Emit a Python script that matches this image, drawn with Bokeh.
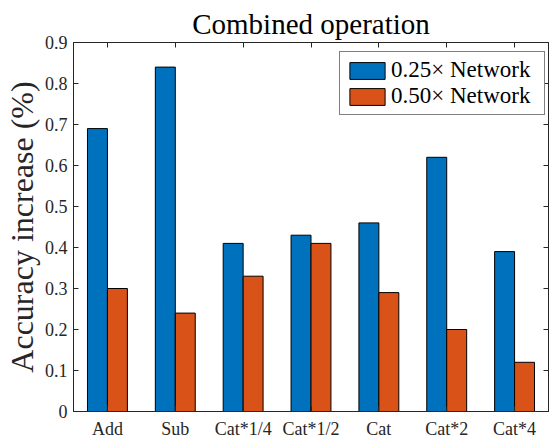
from bokeh.plotting import figure
from bokeh.models import (FixedTicker, LinearAxis, Range1d, ColumnDataSource,
                          Legend, LegendItem)
from bokeh.embed import file_html
from bokeh.resources import INLINE

# ---- data ----
categories = ["Add", "Sub", "Cat*1/4", "Cat*1/2", "Cat", "Cat*2", "Cat*4"]
net_025 = [0.69, 0.84, 0.41, 0.43, 0.46, 0.62, 0.39]
net_050 = [0.30, 0.24, 0.33, 0.41, 0.29, 0.20, 0.12]
series_names = ["0.25\u00d7 Network", "0.50\u00d7 Network"]
y_ticks = [0.0, 0.1, 0.2, 0.3, 0.4, 0.5, 0.6, 0.7, 0.8, 0.9]
y_tick_labels = ["0", "0.1", "0.2", "0.3", "0.4", "0.5", "0.6", "0.7", "0.8", "0.9"]
title_text = "Combined operation"
ylabel_text = "Accuracy increase (%)"

BLUE = "#0072BD"
ORANGE = "#D95319"
AXC = "#262626"
FONT = "Liberation Serif"

positions = list(range(1, len(categories) + 1))
bar_w = 0.294
src = ColumnDataSource(dict(
    xa=[p - bar_w / 2 for p in positions],
    xb=[p + bar_w / 2 for p in positions],
    a=net_025, b=net_050))

p = figure(width=550, height=441, output_backend="svg", toolbar_location=None,
           x_range=Range1d(0.5, len(categories) + 0.5), y_range=Range1d(0, 0.9),
           min_border_left=72, min_border_right=2, min_border_top=42,
           min_border_bottom=29, x_axis_location=None, y_axis_location=None)
p.title.text = title_text
p.title.text_font = FONT
p.title.text_font_size = "29px"
p.title.text_font_style = "normal"
p.title.text_color = "black"
p.title.align = "center"
p.title.standoff = 5
p.xgrid.visible = False
p.ygrid.visible = False
p.outline_line_color = AXC
p.outline_line_width = 1
p.background_fill_color = "white"
p.border_fill_color = "white"

ra = p.vbar(x="xa", top="a", width=bar_w, source=src, fill_color=BLUE,
            line_color="black", line_width=1)
rb = p.vbar(x="xb", top="b", width=bar_w, source=src, fill_color=ORANGE,
            line_color="black", line_width=1)


def style_axis(ax, ticks, labels_visible=True):
    ax.ticker = FixedTicker(ticks=ticks)
    ax.major_tick_in = 5
    ax.major_tick_out = 0
    ax.minor_tick_in = 0
    ax.minor_tick_out = 0
    ax.axis_line_color = AXC
    ax.major_tick_line_color = AXC
    ax.major_label_text_font = FONT
    ax.major_label_text_color = AXC
    ax.major_label_text_font_size = "18px"
    if not labels_visible:
        ax.major_label_text_font_size = "1px"
        ax.major_label_standoff = 0
        ax.major_label_overrides = {t: "" for t in ticks}


# bottom axis
xb_ax = LinearAxis()
style_axis(xb_ax, positions)
xb_ax.major_label_overrides = {pos: c for pos, c in zip(positions, categories)}
xb_ax.major_label_standoff = 7
p.add_layout(xb_ax, "below")

# left axis
yl_ax = LinearAxis()
style_axis(yl_ax, y_ticks)
yl_ax.major_label_overrides = {t: s for t, s in zip(y_ticks, y_tick_labels)}
yl_ax.major_label_standoff = 6
yl_ax.axis_label = ylabel_text
yl_ax.axis_label_text_font = FONT
yl_ax.axis_label_text_font_size = "32px"
yl_ax.axis_label_text_font_style = "normal"
yl_ax.axis_label_text_color = AXC
yl_ax.axis_label_standoff = 2
p.add_layout(yl_ax, "left")

# mirrored box ticks
xt_ax = LinearAxis()
style_axis(xt_ax, positions, labels_visible=False)
p.add_layout(xt_ax, "above")
yr_ax = LinearAxis()
style_axis(yr_ax, y_ticks, labels_visible=False)
p.add_layout(yr_ax, "right")

legend = Legend(items=[LegendItem(label=series_names[0], renderers=[ra]),
                       LegendItem(label=series_names[1], renderers=[rb])],
                location=(266, 296))
legend.label_text_font = FONT
legend.label_text_font_size = "23px"
legend.label_text_color = "black"
legend.glyph_width = 44
legend.glyph_height = 21
legend.label_height = 21
legend.label_width = 148
legend.label_standoff = 2
legend.padding = 5
legend.spacing = 0
legend.margin = 0
legend.border_line_color = "black"
legend.border_line_width = 1
legend.background_fill_alpha = 1
p.add_layout(legend, "center")

open("out.html", "w").write(file_html(p, INLINE))
